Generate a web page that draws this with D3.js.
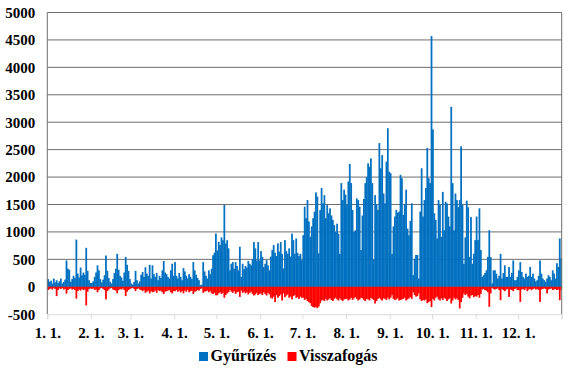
<!DOCTYPE html>
<html>
<head>
<meta charset="utf-8">
<script src="https://cdn.jsdelivr.net/npm/d3@7"></script>
<style>
    body { margin: 0; background: #fff; }
</style>
</head>
<body>
<svg id="chart" width="570" height="373"></svg>
<script>
// month labels and month lengths (non-leap year)
const monthLabels = ['1. 1.', '2. 1.', '3. 1.', '4. 1.', '5. 1.', '6. 1.', '7. 1.', '8. 1.', '9. 1.', '10. 1.', '11. 1.', '12. 1.'];
const monthDays = [31, 28, 31, 30, 31, 30, 31, 31, 30, 31, 30, 31];
const yTicks = [-500, 0, 500, 1000, 1500, 2000, 2500, 3000, 3500, 4000, 4500, 5000];
const seriesNames = ['Gyűrűzés', 'Visszafogás'];

// daily ringing counts (Gyűrűzés), one array per month
const ringJan = [140, 90, 110, 60, 150, 80, 120, 70, 100, 150, 60, 90, 130, 480, 330, 310, 90, 140, 200, 160, 860, 240, 170, 350, 210, 260, 220, 710, 290, 120, 70];
const ringFeb = [70, 100, 180, 260, 390, 300, 140, 80, 130, 210, 570, 290, 160, 90, 60, 140, 250, 330, 600, 310, 200, 170, 110, 260, 545, 400, 290, 140];
const ringMar = [60, 40, 90, 290, 120, 60, 100, 220, 270, 180, 355, 240, 200, 400, 150, 390, 230, 180, 250, 120, 200, 160, 300, 470, 260, 230, 180, 150, 300, 420, 200];
const ringApr = [450, 200, 150, 250, 180, 120, 340, 280, 200, 150, 230, 180, 140, 450, 300, 220, 160, 120, 30, 40, 450, 280, 200, 150, 300, 230, 330, 575, 620, 970];
const ringMay = [660, 820, 760, 900, 850, 1490, 790, 850, 700, 300, 420, 450, 330, 450, 380, 300, 730, 180, 420, 320, 380, 350, 470, 420, 390, 500, 815, 700, 480, 815, 480];
const ringJun = [650, 545, 360, 420, 485, 390, 300, 550, 670, 760, 620, 560, 790, 640, 815, 600, 335, 850, 650, 600, 700, 550, 970, 850, 600, 880, 620, 560, 600, 485];
const ringJul = [940, 1460, 1250, 1580, 1190, 910, 1100, 1250, 1370, 1720, 1645, 610, 1400, 1800, 1520, 1670, 1250, 1490, 1340, 1430, 1300, 1220, 1125, 1000, 1150, 970, 600, 1890, 1580, 1770, 1680];
const ringAug = [1490, 1920, 2240, 1890, 1400, 1000, 1030, 1610, 1580, 1460, 670, 1300, 1600, 1890, 2000, 2250, 2190, 2340, 1890, 490, 1670, 1500, 1400, 2620, 2160, 2400, 1700, 1520, 2280, 2890, 2100];
const ringSep = [2070, 600, 1100, 1280, 1400, 1350, 1370, 2040, 1980, 1310, 1500, 1770, 1060, 940, 1200, 1520, 210, 510, 580, 580, 150, 1370, 2160, 1280, 1580, 1800, 2530, 1980, 1890, 4570];
const ringOct = [2870, 1340, 1220, 880, 1580, 1490, 910, 1730, 1030, 1550, 1520, 1280, 1100, 3280, 1890, 1030, 1700, 1580, 1450, 1580, 2560, 1490, 420, 900, 1570, 1450, 540, 1270, 420, 600, 850];
const ringNov = [1280, 850, 1430, 670, 180, 210, 250, 300, 545, 1030, 540, 60, 300, 300, 240, 150, 200, 600, 150, 250, 390, 180, 180, 360, 180, 250, 480, 120, 120, 180];
const ringDec = [300, 450, 270, 180, 150, 240, 180, 200, 360, 180, 240, 150, 100, 120, 200, 480, 240, 150, 120, 90, 150, 210, 180, 120, 300, 240, 150, 430, 360, 880, 515];

// daily recaptures (Visszafogás), drawn below zero
const recapJan = [-60, -40, -30, -50, -20, -40, -170, -60, -30, -40, -20, -50, -40, -125, -60, -40, -30, -50, -40, -60, -215, -80, -50, -70, -40, -60, -50, -340, -90, -40, -30];
const recapFeb = [-40, -30, -60, -50, -100, -60, -30, -20, -40, -60, -230, -80, -50, -30, -20, -50, -60, -70, -120, -60, -40, -50, -30, -60, -170, -90, -60, -40];
const recapMar = [-30, -20, -40, -80, -40, -30, -50, -60, -80, -60, -110, -90, -70, -120, -80, -100, -90, -70, -110, -60, -80, -70, -100, -130, -90, -80, -70, -60, -100, -120, -80];
const recapApr = [-80, -60, -90, -70, -100, -80, -120, -70, -90, -60, -100, -80, -70, -130, -90, -80, -60, -70, -40, -30, -110, -90, -80, -70, -100, -80, -120, -130, -110, -155];
const recapMay = [-155, -120, -100, -130, -110, -200, -150, -120, -100, -60, -90, -110, -80, -130, -100, -90, -185, -70, -110, -90, -120, -100, -140, -110, -90, -130, -160, -140, -110, -150, -130];
const recapJun = [-120, -150, -100, -130, -160, -110, -140, -200, -215, -180, -280, -150, -200, -170, -140, -250, -120, -190, -160, -140, -200, -180, -230, -170, -150, -200, -190, -220, -180, -200];
const recapJul = [-200, -240, -220, -260, -280, -300, -350, -370, -380, -370, -390, -360, -300, -250, -240, -260, -220, -250, -230, -210, -240, -260, -220, -200, -230, -250, -210, -240, -260, -230, -220];
const recapAug = [-220, -250, -230, -200, -240, -210, -190, -220, -250, -230, -200, -210, -240, -260, -220, -230, -250, -200, -220, -240, -305, -260, -220, -200, -230, -250, -210, -220, -240, -200, -230];
const recapSep = [-200, -150, -220, -240, -230, -210, -250, -240, -230, -220, -200, -250, -230, -210, -190, -220, -100, -150, -180, -170, -120, -230, -260, -240, -250, -230, -300, -280, -260, -370];
const recapOct = [-220, -250, -200, -180, -230, -250, -210, -240, -200, -220, -260, -230, -210, -305, -250, -200, -230, -210, -240, -395, -280, -200, -125, -150, -130, -180, -210, -160, -150, -190, -170];
const recapNov = [-180, -150, -200, -130, -50, -40, -60, -70, -100, -365, -120, -20, -40, -50, -40, -30, -60, -245, -40, -60, -80, -50, -40, -185, -50, -60, -80, -40, -30, -60];
const recapDec = [-60, -275, -50, -40, -60, -30, -80, -50, -40, -60, -40, -30, -50, -40, -60, -275, -50, -40, -30, -40, -120, -50, -40, -30, -60, -50, -40, -60, -50, -245, -60];

const ringing = [].concat(ringJan, ringFeb, ringMar, ringApr, ringMay, ringJun, ringJul, ringAug, ringSep, ringOct, ringNov, ringDec);
const recapture = [].concat(recapJan, recapFeb, recapMar, recapApr, recapMay, recapJun, recapJul, recapAug, recapSep, recapOct, recapNov, recapDec);

const BLUE = '#0070C0', RED = '#FF0000';
const FONT = 'Liberation Serif';
const PLOT_L = 47.3, PLOT_R = 561.7, PLOT_T = 12.5, PLOT_B = 314.2;

const svg = d3.select('#chart');
const nDays = ringing.length;

// month start indices for ticks
const monthStarts = [];
monthDays.reduce((acc, n) => { monthStarts.push(acc); return acc + n; }, 0);

const x = d3.scaleLinear().domain([0, nDays]).range([PLOT_L, PLOT_R]);
const y = d3.scaleLinear().domain([-500, 5000]).range([PLOT_B, PLOT_T]);
const barW = x(1) - x(0);

// gridlines
svg.append('g').selectAll('line')
    .data(yTicks.filter(v => v > -500 && v < 5000))
    .join('line')
    .attr('x1', PLOT_L).attr('x2', PLOT_R)
    .attr('y1', d => y(d)).attr('y2', d => y(d))
    .attr('stroke', '#6e6e6e').attr('stroke-width', 1);

// bars (slight overlap so neighbouring bars don't leave seams)
const days = d3.range(nDays);
svg.append('g').selectAll('rect')
    .data(days)
    .join('rect')
    .attr('x', d => x(d)).attr('width', barW + 0.35)
    .attr('y', d => y(ringing[d])).attr('height', d => y(0) - y(ringing[d]))
    .attr('fill', BLUE);

svg.append('g').selectAll('rect')
    .data(days)
    .join('rect')
    .attr('x', d => x(d)).attr('width', barW + 0.35)
    .attr('y', y(0)).attr('height', d => y(recapture[d]) - y(0))
    .attr('fill', RED);

// frame: top, left, right
svg.append('path')
    .attr('d', `M${PLOT_L},${PLOT_B} V${PLOT_T} H${PLOT_R} V${PLOT_B}`)
    .attr('fill', 'none').attr('stroke', '#6e6e6e').attr('stroke-width', 1);

// x axis
const xAxis = d3.axisBottom(x)
    .tickValues(monthStarts.concat([nDays]))
    .tickFormat((d, i) => monthLabels[i] || '')
    .tickSize(5).tickPadding(8);
const gx = svg.append('g').attr('transform', `translate(0,${PLOT_B})`).call(xAxis);
gx.select('.domain').attr('stroke', '#d9d9d9');
gx.selectAll('.tick line').attr('stroke', '#d9d9d9');
gx.selectAll('text')
    .attr('font-family', FONT).attr('font-size', 15).attr('font-weight', 'bold').attr('fill', '#000');

// y axis labels
const yAxis = d3.axisLeft(y).tickValues(yTicks).tickSize(0).tickPadding(12)
    .tickFormat(d => d < 0 ? '-' + Math.abs(d) : d);
const gy = svg.append('g').attr('transform', `translate(${PLOT_L},0)`).call(yAxis);
gy.select('.domain').remove();
gy.selectAll('text')
    .attr('font-family', FONT).attr('font-size', 15).attr('font-weight', 'bold').attr('fill', '#000');

// legend
const legend = svg.append('g').attr('transform', 'translate(199,351)');
const items = [{ name: seriesNames[0], color: BLUE, dx: 0 }, { name: seriesNames[1], color: RED, dx: 88.5 }];
const li = legend.selectAll('g').data(items).join('g').attr('transform', d => `translate(${d.dx},0)`);
li.append('rect').attr('width', 9).attr('height', 9).attr('y', 1).attr('fill', d => d.color);
li.append('text').attr('x', 11.5).attr('y', 9.5)
    .attr('font-family', FONT).attr('font-size', 16).attr('font-weight', 'bold').attr('fill', '#000')
    .text(d => d.name);
</script>
</body>
</html>
